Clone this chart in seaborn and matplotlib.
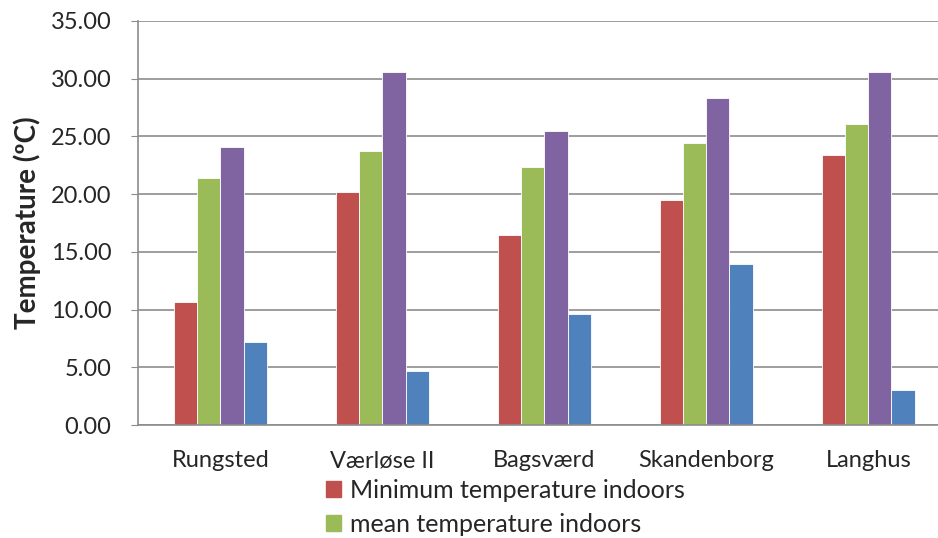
import pandas as pd
import matplotlib
matplotlib.use("Agg")
import matplotlib.pyplot as plt
import seaborn as sns

# ── data ─────────────────────────────────────────────────────────────────────
sites = ["Rungsted", "Værløse II", "Bagsværd", "Skandenborg", "Langhus"]
min_indoor  = [10.66, 20.17, 16.50, 19.50, 23.40]
mean_indoor = [21.40, 23.77, 22.33, 24.40, 26.10]
max_indoor  = [24.05, 30.60, 25.45, 28.30, 30.60]
min_outdoor = [7.17, 4.68, 9.62, 13.95, 3.06]

series = ["Minimum temperature indoors", "mean temperature indoors",
          "Maximum temperature indoors", "Minimum temperature outdoors"]
colors = ["#C0504D", "#9BBB59", "#8064A2", "#4F81BD"]

df = pd.DataFrame({
    "site":   sites * 4,
    "value":  min_indoor + mean_indoor + max_indoor + min_outdoor,
    "series": [s for s in series for _ in sites],
})

sns.set_style("white")
plt.rcParams["font.family"] = ["Lato", "DejaVu Sans"]

fig = plt.figure(figsize=(9.38, 5.38), dpi=100)
ax = fig.add_axes([0.147, 0.21, 0.853, 0.751])

sns.barplot(data=df, x="site", y="value", hue="series", hue_order=series,
            palette=colors, width=0.57, edgecolor="white", linewidth=0.6,
            saturation=1, ax=ax, legend=False)

ax.set_ylim(0, 35)
ax.set_yticks(range(0, 36, 5))
ax.set_yticklabels([f"{v:.2f}" for v in range(0, 36, 5)], fontsize=17)
ax.yaxis.grid(True, color="#8C8C8C", linewidth=1.2)
ax.set_axisbelow(True)
ax.tick_params(axis="y", length=5, color="#8C8C8C", pad=14, left=True)
ax.tick_params(axis="x", length=0, labelsize=17, pad=18)
ax.set_xlabel("")
ax.set_ylabel("Temperature (ºC)", fontsize=20, fontweight="bold", labelpad=7)
for side in ["top", "right"]:
    ax.spines[side].set_visible(False)
for side in ["left", "bottom"]:
    ax.spines[side].set_color("#8C8C8C")
    ax.spines[side].set_linewidth(1.2)
ax.set_xlim(-0.51, 4.43)

handles = [plt.Rectangle((0, 0), 1, 1, color=c) for c in colors[:2]]
fig.legend(handles, series[:2], loc="upper left", bbox_to_anchor=(0.348, 0.11),
           frameon=False, fontsize=18, handlelength=0.6, handleheight=0.6,
           handletextpad=0.35, labelspacing=0.45, borderaxespad=0, borderpad=0)

fig.savefig("out.png", dpi=100)
